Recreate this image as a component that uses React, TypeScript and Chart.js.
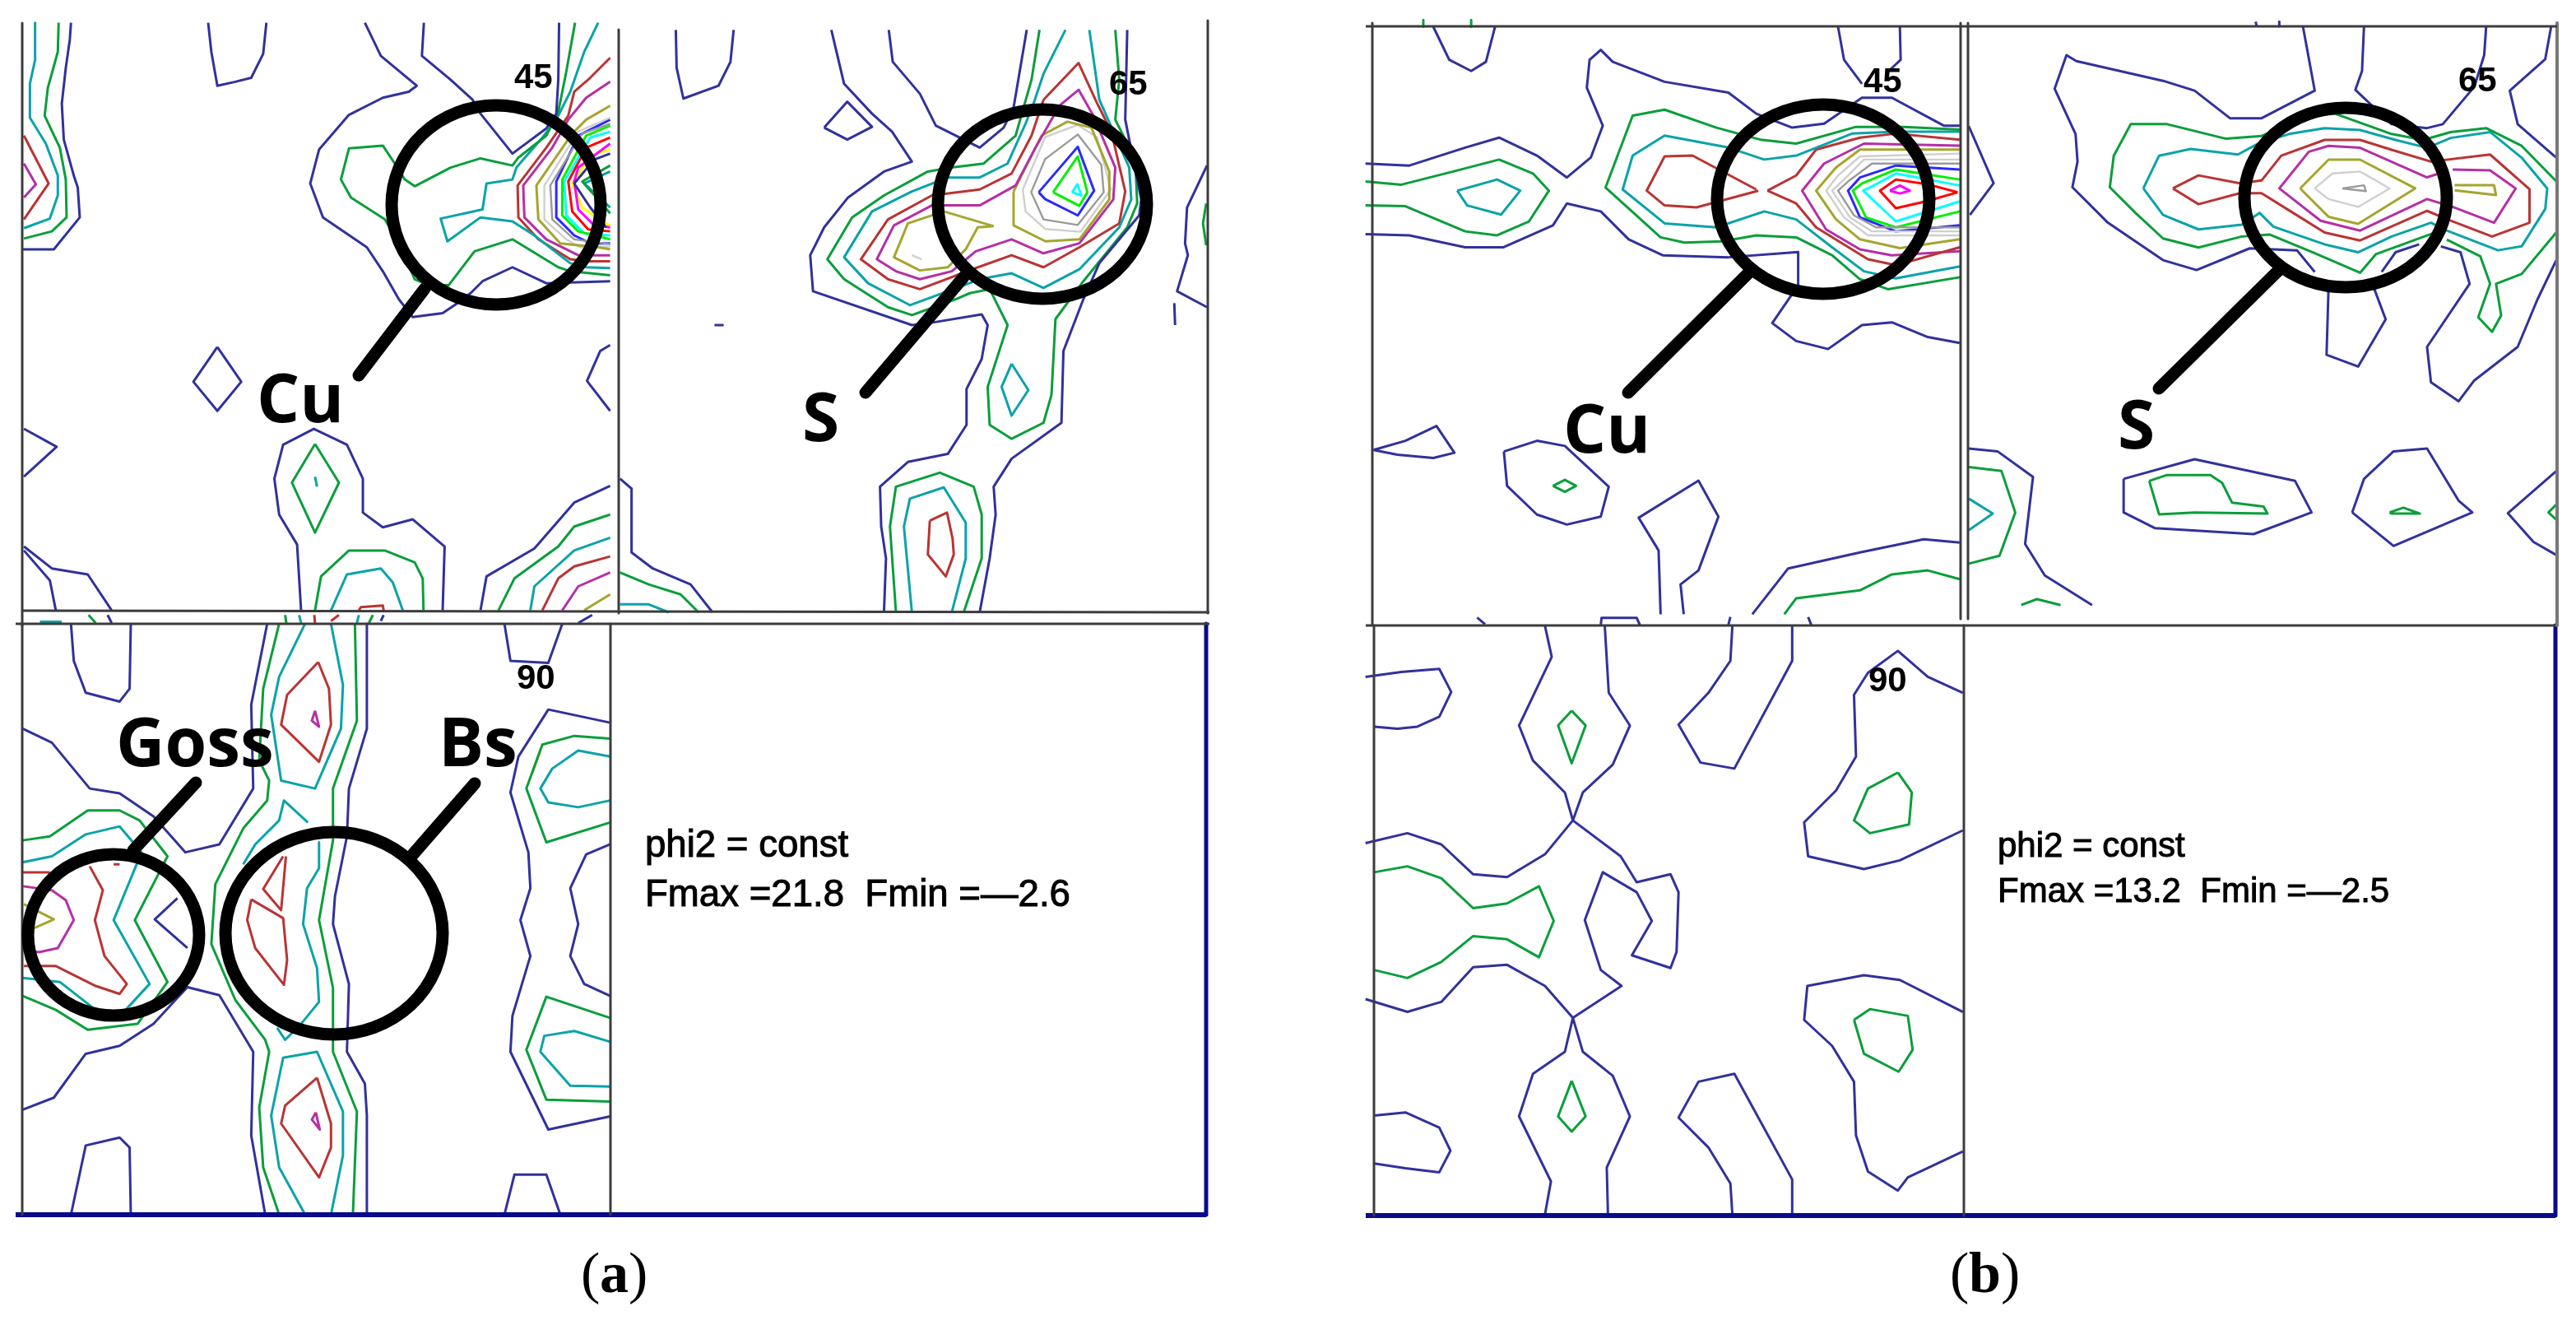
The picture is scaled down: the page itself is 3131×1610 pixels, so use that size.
import React, { useEffect, useRef } from "react";
import { Chart, registerables } from "chart.js";

Chart.register(...registerables);

// contour level colours, lowest level first
const levelColors = ["#31319c", "#0a9e3a", "#0aa3a8", "#b93434", "#b52fa5", "#a5a52f", "#cfcfcf", "#9a9a9a", "#2a2aff", "#00f000", "#00ffff", "#ff0000", "#ff00ff", "#ffff00", "#ff8c3c"];
const [NV, GR, TL, BR, PU, OL, LG, DG, BL, LM, CY, RD, MG, YL, OR] = levelColors.map((_, i) => i);

type Contour = [number, number[]];

const a45: Contour[] = [
  [NV, [178,57,175,100,165,170,155,260,160,350,185,440,195,470,200,545,135,625,57,625]],
  [GR, [147,57,145,130,120,220,112,290,150,370,165,450,167,545,130,580,60,598]],
  [TL, [88,57,88,150,75,210,75,295,115,360,145,440,145,490,125,548,60,572]],
  [BR, [60,340,122,460,60,550]],
  [PU, [60,410,90,462,60,495]],
  [NV, [522,57,530,130,545,215,590,205,630,195,660,135,668,57]],
  [NV, [915,57,955,140,1045,215,1025,230,960,245,875,288,800,375,778,460,810,545,920,620,960,680,1000,750,1035,795,1110,785,1140,765,1180,735,1210,705,1285,670,1370,710,1430,708,1530,705]],
  [NV, [1063,57,1058,140,1130,200,1185,250,1205,285,1285,385,1370,322,1395,285,1400,200,1402,57]],
  [GR, [1442,57,1420,180,1400,280,1370,340,1300,395,1285,415,1205,397,1130,420,1040,467,1015,450,990,410,960,365,875,372,855,450,880,495,965,550,1000,610,1040,700,1075,715,1125,715,1190,630,1285,600,1400,670,1430,680,1530,690]],
  [TL, [1500,57,1465,130,1430,230,1395,300,1360,345,1295,420,1285,450,1220,460,1210,525,1105,548,1122,605,1205,545,1285,555,1340,590,1430,660,1470,670,1530,672]],
  [BR, [1530,145,1480,195,1440,230,1425,290,1370,370,1298,465,1300,545,1350,600,1430,650,1480,655,1530,655]],
  [PU, [1530,205,1470,245,1425,300,1385,370,1312,465,1315,545,1370,600,1450,640,1530,640]],
  [OL, [1530,265,1470,300,1435,335,1345,465,1350,550,1405,610,1500,620,1530,625]],
  [LG, [1530,295,1450,330,1365,465,1365,550,1420,600,1455,620,1530,618]],
  [DG, [1530,310,1460,335,1380,465,1385,550,1440,600,1530,612]],
  [BL, [1530,300,1450,340,1395,455,1395,545,1440,590,1480,610,1530,610]],
  [LM, [1530,315,1470,340,1410,450,1410,540,1450,580,1530,600]],
  [CY, [1530,330,1480,345,1415,455,1420,540,1465,585,1530,590]],
  [RD, [1530,345,1470,370,1425,455,1435,530,1475,575,1530,580]],
  [MG, [1530,360,1450,420,1440,455,1450,525,1490,565,1530,570]],
  [YL, [1530,375,1480,390,1435,460,1460,520,1510,555,1530,565]],
  [NV, [1530,385,1490,400,1440,460,1480,520,1520,570]],
  [GR, [1530,415,1460,455,1500,500,1530,535]],
  [TL, [1530,430,1465,460,1530,520]],
  [NV, [60,1075,142,1120,60,1195]],
  [NV, [545,870,605,957,545,1030,485,957,545,870]],
  [NV, [1530,865,1505,880,1472,955,1530,1030]],
  [NV, [755,1530,745,1365,700,1290,688,1200,710,1115,787,1075,870,1115,910,1200,910,1285,960,1322,1035,1302,1115,1370,1110,1530]],
  [NV, [60,1370,130,1425,220,1440,280,1530]],
  [NV, [60,1380,125,1455,140,1530]],
  [NV, [1205,1530,1220,1445,1340,1375,1440,1260,1530,1218]],
  [GR, [790,1113,850,1210,790,1335,732,1210,790,1113]],
  [GR, [790,1530,805,1445,875,1380,965,1380,1040,1410,1060,1450,1062,1530]],
  [GR, [1250,1530,1290,1450,1400,1370,1440,1320,1530,1290]],
  [TL, [790,1195,795,1220]],
  [TL, [830,1530,870,1440,955,1425,985,1460,1010,1530]],
  [TL, [1330,1530,1340,1470,1440,1380,1530,1348]],
  [BR, [900,1530,905,1522,960,1518,962,1530]],
  [BR, [1360,1530,1400,1450,1440,1420,1530,1395]],
  [PU, [1410,1530,1450,1470,1530,1435]],
  [OL, [1465,1530,1530,1490]],
];

const a65: Contour[] = [
  [NV, [168,75,170,170,187,247,275,215,305,155,313,75]],
  [NV, [558,75,590,210,660,285,710,330,760,405,690,430,600,495,540,570,505,640,512,730,760,815,815,808,935,788,950,815,935,900,897,975,897,1065,850,1138,750,1158,680,1220,683,1320,695,1400,690,1535]],
  [NV, [702,75,712,155,780,235,820,315,930,370,990,320,1015,270,1048,75]],
  [NV, [1300,75,1295,300,1335,500,1330,540,1230,660,1190,750,1140,880,1135,1060,1010,1150,965,1220,970,1290,955,1400,930,1535]],
  [NV, [540,320,598,255,660,318,598,350,540,320]],
  [NV, [265,815,288,815]],
  [NV, [1418,760,1420,815]],
  [NV, [1500,415,1450,520,1445,610,1452,640,1425,730,1500,770]],
  [NV, [28,1200,57,1225,57,1385,110,1425,205,1465,260,1535]],
  [GR, [1080,75,1060,200,1040,270,1020,340,940,410,860,420,800,430,690,490,610,545,548,650,590,700,700,770,760,790,870,750,905,735,955,725,1000,815,950,970,955,1065,1010,1100,1090,1060,1110,990,1120,800,1190,705,1300,570,1325,510,1320,400,1270,300,1280,200,1270,75]],
  [GR, [1498,510,1490,560,1498,615]],
  [GR, [720,1535,705,1320,720,1220,830,1185,915,1220,935,1290,935,1400,890,1535]],
  [GR, [28,1435,100,1465,180,1490,225,1535]],
  [TL, [1145,75,1090,185,1065,260,1045,310,1000,410,930,445,850,445,760,480,660,530,590,645,650,710,755,765,850,730,930,700,1010,685,1090,722,1180,675,1280,570,1310,500,1305,420,1230,250,1205,75]],
  [TL, [1010,912,1052,978,1010,1042,985,970,1010,912]],
  [TL, [760,1535,740,1320,755,1250,840,1222,895,1310,895,1400,860,1535]],
  [TL, [28,1515,100,1515,150,1535]],
  [BR, [1090,250,1178,158,1225,260,1260,330,1295,480,1280,560,1180,620,1090,670,1010,640,920,672,780,725,700,700,632,650,700,550,810,490,930,475,1010,435,1060,340,1090,250]],
  [BR, [805,1305,848,1285,862,1350,865,1390,845,1445,800,1390,805,1305]],
  [PU, [1130,265,1178,225,1215,290,1270,420,1265,500,1180,610,1090,635,1010,600,920,630,860,680,780,700,720,680,672,650,715,565,810,515,930,515,1020,465,1070,370,1130,265]],
  [OL, [1015,480,1085,340,1150,305,1210,320,1255,430,1255,500,1180,600,1095,605,1015,565,1015,480]],
  [OL, [965,567,840,530,750,560,715,645,780,678,850,670,895,625,925,570,965,567]],
  [LG, [1038,475,1094,344,1176,313,1224,344,1259,475,1183,581,1094,574,1045,530,1038,475]],
  [DG, [1059,482,1094,399,1176,337,1235,413,1241,482,1176,564,1090,550,1059,482]],
  [BL, [1078,482,1176,368,1217,478,1176,540,1094,499,1078,482]],
  [LM, [1114,482,1176,392,1200,482,1180,516,1114,482]],
  [CY, [1162,482,1175,462,1185,490,1162,482]],
  [LG, [760,640,785,650]],
];

const a90: Contour[] = [
  [NV, [178,37,185,130,215,210,300,232,325,200,328,37]],
  [NV, [57,300,130,335,225,450,300,462,385,520,465,610,550,590,635,450,630,240,670,37]],
  [NV, [920,37,920,300,875,450,870,570,840,720,835,790,875,940,870,1110,915,1190,920,1270,920,1518]],
  [NV, [1265,37,1280,130,1375,135,1410,37]],
  [NV, [1530,285,1375,252,1300,370,1280,460,1325,610,1330,700,1305,780,1330,870,1285,1020,1280,1110,1375,1305,1530,1272]],
  [NV, [1530,590,1470,615,1430,700,1450,790,1430,870,1465,940,1530,970]],
  [NV, [445,725,388,778,470,850]],
  [NV, [57,1255,135,1225,215,1115,300,1095,385,1040,440,980,470,948,550,968,635,1110,630,1320,665,1518]],
  [NV, [178,1518,215,1345,300,1325,325,1350,328,1518]],
  [NV, [1265,1518,1290,1418,1370,1418,1405,1518]],
  [GR, [57,580,125,570,220,505,300,505,350,530,420,620,338,780,420,935,345,1040,220,1055,140,1005,57,970]],
  [GR, [700,37,660,200,650,380,675,430,670,480,610,550,540,690,530,840,590,980,665,1080,675,1110,650,1250,660,1400,700,1518]],
  [GR, [890,37,895,280,835,450,835,580,800,780,835,950,835,1110,895,1260,885,1518]],
  [GR, [1530,325,1440,318,1360,340,1320,450,1370,585,1530,535]],
  [GR, [1530,1025,1370,972,1320,1105,1370,1230,1530,1235]],
  [TL, [57,635,130,620,215,565,300,545,355,610,285,780,375,940,315,1005]],
  [TL, [57,925,150,935,240,1005]],
  [TL, [765,37,700,170,680,265,705,430,790,450,855,300,860,190,830,37]],
  [TL, [610,640,640,590,700,530,712,480,772,535]],
  [TL, [800,585,800,650,770,700,760,790,795,900,800,985,755,1040,715,1080,695,1050]],
  [TL, [765,1518,700,1400,680,1270,710,1125,795,1110,860,1260,860,1370,830,1518]],
  [TL, [1530,370,1450,355,1385,400,1355,450,1375,485,1450,497,1530,480]],
  [TL, [1530,1085,1440,1058,1365,1070,1355,1110,1430,1195,1530,1197]],
  [BR, [225,645,258,705,238,780,262,870,318,940,300,965,240,945,140,895,60,895]],
  [BR, [57,660,125,660]],
  [BR, [798,133,825,200,830,290,800,383,705,290,720,215,798,133]],
  [BR, [710,620,660,702,705,755,717,620]],
  [BR, [630,728,710,775,720,880,712,942,640,850,620,780,630,728]],
  [BR, [795,1175,830,1290,830,1350,800,1425,705,1290,715,1245,795,1175]],
  [BR, [285,640,300,640]],
  [PU, [58,695,130,705,165,730,185,780,145,850,100,860,60,860]],
  [PU, [790,255,800,295,782,280,790,255]],
  [PU, [792,1262,802,1305,782,1280,792,1262]],
  [OL, [60,740,135,778,85,800]],
  [OR, [1355,355,1335,410]],
  [GR, [715,15,718,35]],
  [TL, [750,15,755,35]],
  [BR, [788,15,790,35]],
  [BR, [830,30,850,15]],
  [TL, [895,35,900,15]],
  [GR, [925,35,935,15]],
  [NV, [955,30,962,15]],
  [TL, [100,32,155,32]],
  [GR, [222,15,240,35]],
  [NV, [270,15,280,35]],
  [NV, [1450,35,1485,15]],
];

const b45: Contour[] = [
  [NV, [190,67,230,150,285,178,322,155,345,67]],
  [NV, [20,410,130,415,270,370,355,345,450,390,525,445,585,395,615,315,575,220,582,150,610,125,640,155,770,205,930,232,1000,285,1090,320,1170,310,1265,245,1340,245,1470,315,1510,315]],
  [NV, [20,587,130,590,270,620,365,620,490,565,525,510,610,530,680,600,765,640,930,645,1105,632,1105,715,1040,810,1100,855,1180,875,1265,815,1340,808,1430,845,1510,860]],
  [NV, [1205,67,1220,150,1265,210]],
  [NV, [1360,67,1362,150,1330,180]],
  [NV, [40,1128,120,1105,198,1068,243,1135,190,1148,100,1140,40,1128]],
  [NV, [367,1132,450,1105,520,1118,630,1220,610,1295,525,1315,450,1290,375,1218,367,1132]],
  [NV, [760,1540,755,1380,705,1298,855,1205,905,1295,855,1430,810,1465,818,1540]],
  [NV, [990,1540,1080,1425,1260,1385,1420,1352,1510,1360]],
  [NV, [300,1548,320,1565]],
  [GR, [20,455,110,463,240,430,355,400,440,435,480,478,430,555,350,590,270,580,120,517,20,515]],
  [GR, [1510,325,1370,318,1250,318,1100,360,1010,350,900,320,770,275,690,290,622,470,760,595,820,608,915,605,1000,590,1100,595,1190,640,1260,700,1330,725,1510,695]],
  [GR, [1070,1540,1100,1500,1260,1480,1340,1440,1430,1430,1510,1452]],
  [GR, [165,50,165,67]],
  [GR, [285,50,285,67]],
  [GR, [490,1218,520,1203,548,1218,520,1233,490,1218]],
  [TL, [250,478,350,450,408,478,360,538,275,515,250,478]],
  [TL, [1510,330,1350,330,1240,335,1100,390,1020,400,930,370,770,340,690,390,665,475,770,560,900,570,1020,530,1100,550,1190,620,1270,680,1350,698,1510,668]],
  [BR, [1000,475,840,390,770,392,725,478,770,515,850,520,1005,478]],
  [BR, [1028,478,1100,440,1150,375,1260,345,1350,335,1510,350]],
  [BR, [1028,478,1100,510,1150,570,1280,650,1350,665,1510,620]],
  [PU, [1510,365,1270,360,1170,410,1115,478,1175,575,1260,625,1340,640,1510,630]],
  [OL, [1510,375,1260,375,1200,420,1150,478,1200,550,1260,600,1360,622,1510,600]],
  [LG, [1510,385,1260,392,1205,440,1175,478,1220,545,1280,590,1510,590]],
  [LG, [1510,400,1270,400,1220,450,1190,478,1235,545,1290,580,1510,580]],
  [DG, [1510,410,1290,410,1230,455,1205,478,1245,540,1300,570,1510,570]],
  [BL, [1510,425,1350,415,1260,445,1230,478,1260,545,1350,580,1510,565]],
  [LM, [1510,450,1350,425,1265,460,1242,478,1275,545,1350,570,1510,530]],
  [CY, [1510,465,1350,435,1285,470,1268,478,1350,555,1510,505]],
  [RD, [1505,482,1430,462,1350,450,1310,478,1350,522,1425,505,1505,482]],
  [MG, [1335,478,1360,465,1385,478,1360,485,1335,478]],
];

const b65: Contour[] = [
  [NV, [875,67,905,230,770,300,690,300,600,230,520,205,300,155,275,140,245,225,298,340,303,410,290,475,380,565,520,660,605,685,740,630,860,635,905,690]],
  [NV, [1030,67,1025,180,1008,228,1100,315,1190,325,1230,315,1310,220,1335,140,1340,67]],
  [NV, [1505,67,1490,150,1400,230,1420,315,1518,400]],
  [NV, [940,730,935,900,1015,930,1085,810,1055,730]],
  [NV, [1075,690,1110,640,1170,620]],
  [NV, [1225,625,1275,640,1298,720,1190,880,1200,970,1270,1018,1310,965,1420,880,1470,760,1518,660]],
  [NV, [27,1138,100,1145,190,1210,170,1380,220,1460,340,1535]],
  [NV, [420,1215,600,1165,855,1220,897,1300,750,1355,500,1340,420,1300,420,1215]],
  [NV, [1000,1300,1030,1215,1105,1145,1190,1138,1270,1270,1305,1300,1105,1385,1000,1300]],
  [NV, [1518,1195,1395,1302,1460,1375,1518,1408]],
  [NV, [27,320,90,465,30,545]],
  [NV, [755,55,758,67]],
  [NV, [815,55,815,67]],
  [GR, [1210,590,1060,645,1020,692,900,640,790,595,720,600,610,628,520,605,450,540,385,475,395,395,438,315,530,315,680,352,770,345,890,295,955,288,1100,340,1180,355,1250,335,1340,325,1430,370,1518,460]],
  [GR, [1240,608,1325,650,1350,720,1320,805,1355,842,1378,800,1365,720,1430,695,1518,590]],
  [GR, [27,1185,110,1195,145,1300,105,1410,27,1430]],
  [GR, [485,1220,530,1205,640,1205,670,1225,695,1275,775,1285,785,1303,600,1300,510,1305,485,1220]],
  [GR, [1095,1300,1130,1288,1172,1303,1100,1303,1095,1300]],
  [GR, [1518,1280,1498,1300,1518,1318]],
  [GR, [160,1535,200,1520,260,1535]],
  [TL, [470,478,510,395,590,378,710,392,760,365,840,340,930,325,1020,330,1110,355,1190,375,1250,350,1350,335,1430,400,1495,478,1490,530,1430,625,1370,635,1240,585,1200,565,1100,600,1015,640,930,620,800,575,765,540,720,570,610,582,520,545,470,478]],
  [TL, [27,1265,88,1303,27,1345]],
  [BR, [545,478,610,445,715,465,770,458,820,395,930,355,1020,355,1100,380,1200,410,1350,392,1450,480,1450,565,1355,600,1250,560,1190,535,1020,610,930,590,850,540,770,490,715,490,610,518,545,478]],
  [PU, [1220,440,1190,450,1020,375,940,370,890,385,815,478,920,560,1020,585,1190,505,1255,525,1360,565,1415,478,1350,432,1255,430]],
  [OL, [868,478,940,405,1020,405,1160,478,1015,568,940,550,868,478]],
  [OL, [1260,470,1360,470,1365,495,1260,483]],
  [LG, [905,478,950,440,1020,435,1095,478,1015,525,940,505,905,478]],
  [DG, [975,478,1030,470,1035,485,975,478]],
];

const b90: Contour[] = [
  [NV, [20,170,110,158,205,150,235,208,205,270,150,295,100,300,42,295]],
  [NV, [470,42,487,120,405,292,440,380,520,460,540,530,565,460,640,390,683,292,630,210,620,42]],
  [NV, [940,42,935,130,880,210,805,290,860,385,945,400,1090,130,1090,42]],
  [NV, [1518,210,1430,170,1355,105,1280,160,1245,215,1250,370,1200,455,1120,535,1130,620,1270,652,1360,630,1518,555]],
  [NV, [20,587,125,562,210,590,290,665,375,672,470,615,540,530,660,620,700,685,785,665,805,710,800,860,785,900,688,868,738,782,700,710,615,660,570,780,610,905,662,945,540,1025,470,945,375,892,290,898,210,985,125,1010,20,978]],
  [NV, [470,1518,485,1435,405,1272,440,1165,520,1110,540,1025,565,1110,640,1170,683,1272,625,1400,628,1518]],
  [NV, [42,1270,120,1262,205,1300,233,1358,205,1412,120,1402,42,1390]],
  [NV, [1090,1518,1090,1430,945,1165,855,1185,805,1275,880,1350,935,1440,940,1518]],
  [NV, [1518,1010,1360,930,1270,918,1128,945,1120,1030,1190,1095,1245,1185,1250,1320,1280,1410,1355,1458,1380,1425,1518,1360]],
  [NV, [610,40,612,22,700,22,708,40]],
  [NV, [935,20,930,40]],
  [NV, [1130,20,1138,40]],
  [GR, [537,255,572,292,537,387,503,292,537,255]],
  [GR, [42,660,125,645,210,675,290,750,375,738,455,695,492,782,455,873,375,828,290,820,210,885,125,925,42,905]],
  [GR, [1355,410,1390,460,1383,540,1285,562,1245,530,1280,450,1355,410]],
  [GR, [1245,1030,1285,1003,1380,1020,1392,1105,1357,1160,1270,1115,1245,1030]],
  [GR, [537,1183,572,1272,537,1310,503,1272,537,1183]],
];

// each contour block, with the top-left corner and scale of the region it was read from
const READ_SCALE = 760 / 1568;
const READ_SCALE_EDGE = 751 / 1568;
const contourPanels: [Contour[], number, number, number][] = [
  [a45, 0, 0, READ_SCALE], [a65, 740, 0, READ_SCALE], [a90, 0, 740, READ_SCALE],
  [b45, 1650, 0, READ_SCALE], [b65, 2380, 0, READ_SCALE_EDGE], [b90, 1650, 740, READ_SCALE],
];

const frameLines: [string, number, number[]][] = [
  ["#3c3c3c", 3, [27, 28, 27, 760]], ["#3c3c3c", 3, [27, 758, 27, 1476]],
  ["#3c3c3c", 3, [752, 36, 752, 745]], ["#3c3c3c", 3, [1468, 25, 1468, 745]],
  ["#3c3c3c", 3, [27, 742, 1470, 744]], ["#3c3c3c", 3, [19, 758, 1470, 758]],
  ["#3c3c3c", 3, [742, 758, 742, 1476]],
  ["#0a0a8c", 5, [1466, 758, 1466, 1476]], ["#0a0a8c", 6, [19, 1476, 1466, 1476]],
  ["#3c3c3c", 3, [1660, 32, 3108, 32]], ["#3c3c3c", 3, [1668, 28, 1668, 758]],
  ["#3c3c3c", 3, [2383, 28, 2383, 752]], ["#3c3c3c", 3, [2392, 28, 2392, 752]],
  ["#777777", 4, [3108, 28, 3108, 760]], ["#3c3c3c", 3, [1660, 760, 3108, 760]],
  ["#3c3c3c", 3, [1670, 760, 1670, 1477]], ["#3c3c3c", 3, [2387, 760, 2387, 1477]],
  ["#0a0a8c", 5, [3106, 760, 3106, 1477]], ["#0a0a8c", 6, [1660, 1477, 3106, 1477]],
];

const ringCx = [603, 1267, 138, 406, 2216, 2851];
const ringCy = [249, 248, 1136, 1134, 242, 240];
const ringRx = [127, 127, 104, 132, 129, 123];
const ringRy = [121, 115, 98, 123, 115, 109];

const handles: number[][] = [
  [516, 351, 436, 456], [1171, 337, 1052, 477], [162, 1033, 238, 951], [502, 1038, 577, 952], [2127, 330, 1979, 477], [2770, 328, 2624, 472],
];

const labelFont = "bold 82px 'Open Sans'";
const numFont = "bold 42px 'Liberation Sans'";
const noteFontA = "45.6px 'Liberation Sans'";
const noteFontB = "42px 'Liberation Sans'";
const serif = "70px 'Liberation Serif'";
const serifBold = "bold 70px 'Liberation Serif'";

const labelTexts: [string, number, number, string, number][] = [
  ["Cu", 312, 513, labelFont, 0], ["S", 975, 536, labelFont, 0],
  ["Goss", 141, 931, labelFont, 0], ["Bs", 533, 931, labelFont, 0],
  ["Cu", 1900, 550, labelFont, 0], ["S", 2574, 545, labelFont, 0],
  ["45", 625, 107, numFont, 0], ["65", 1348, 115, numFont, 0], ["90", 628, 837, numFont, 0],
  ["45", 2265, 112, numFont, 0], ["65", 2988, 111, numFont, 0], ["90", 2271, 840, numFont, 0],
  ["phi2 = const", 784, 1041, noteFontA, 1], ["Fmax =21.8  Fmin =\u20142.6", 784, 1101, noteFontA, 1],
  ["phi2 = const", 2428, 1041, noteFontB, 1], ["Fmax =13.2  Fmin =\u20142.5", 2428, 1096, noteFontB, 1],
  ["(", 706, 1570, serif, 0], ["a", 729, 1570, serifBold, 0], [")", 764, 1570, serif, 0],
  ["(", 2370, 1570, serif, 0], ["b", 2393, 1570, serifBold, 0], [")", 2432, 1570, serif, 0],
];

function ringSprite(rx: number, ry: number): HTMLCanvasElement {
  const c = document.createElement("canvas");
  c.width = Math.ceil(rx * 2 + 24);
  c.height = Math.ceil(ry * 2 + 24);
  const g = c.getContext("2d")!;
  g.lineWidth = 15;
  g.strokeStyle = "#000";
  g.beginPath();
  g.ellipse(c.width / 2, c.height / 2, rx, ry, 0, 0, Math.PI * 2);
  g.stroke();
  return c;
}

const textPlugin = {
  id: "pictureText",
  afterDraw(chart: any) {
    const { ctx, scales } = chart;
    ctx.save();
    ctx.fillStyle = "#000";
    ctx.strokeStyle = "#000";
    ctx.textBaseline = "alphabetic";
    ctx.textAlign = "left";
    for (const [t, x, y, font, stroke] of labelTexts) {
      ctx.font = font;
      const px = scales.x.getPixelForValue(x);
      const py = scales.y.getPixelForValue(y);
      ctx.fillText(t, px, py);
      if (stroke) {
        ctx.lineWidth = stroke;
        ctx.strokeText(t, px, py);
      }
    }
    ctx.restore();
  },
};

function toPoints(flat: number[], ox = 0, oy = 0, k = 1) {
  const pts: { x: number; y: number }[] = [];
  for (let i = 0; i + 1 < flat.length; i += 2) pts.push({ x: ox + flat[i] * k, y: oy + flat[i + 1] * k });
  return pts;
}

export default function App() {
  const ref = useRef<HTMLCanvasElement>(null);
  useEffect(() => {
    const datasets: any[] = [];
    ringCx.forEach((cx, i) => {
      datasets.push({ data: [{ x: cx, y: ringCy[i] }], showLine: false, pointRadius: 1, pointStyle: ringSprite(ringRx[i], ringRy[i]), order: 0 });
    });
    handles.forEach((h) => {
      datasets.push({ data: toPoints(h), borderColor: "#000", borderWidth: 15, borderCapStyle: "round", pointRadius: 0, order: 0 });
    });
    frameLines.forEach(([color, w, line]) => {
      datasets.push({ data: toPoints(line), borderColor: color, borderWidth: w, pointRadius: 0, order: 1 });
    });
    contourPanels.forEach(([cs, ox, oy, k]) => {
      cs.forEach(([level, flat]) => {
        datasets.push({ data: toPoints(flat, ox, oy, k), borderColor: levelColors[level], borderWidth: level === LG || level === DG ? 2.4 : 3, pointRadius: 0, order: 2 + level });
      });
    });
    const chart = new Chart(ref.current!, {
      type: "line",
      data: { datasets },
      options: {
        animation: false,
        responsive: false,
        parsing: false,
        normalized: false,
        layout: { padding: 0, autoPadding: false },
        plugins: { legend: { display: false }, tooltip: { enabled: false } },
        elements: { line: { tension: 0, borderJoinStyle: "round", fill: false } },
        scales: {
          x: { type: "linear", display: false, min: 0, max: 3131 },
          y: { type: "linear", display: false, min: 0, max: 1610, reverse: true },
        },
      },
      plugins: [textPlugin],
    } as any);
    return () => chart.destroy();
  }, []);
  return (
    <canvas
      ref={ref}
      width={3131}
      height={1610}
      style={{ position: "absolute", left: 0, top: 0, width: 3131, height: 1610, background: "#fff", filter: "blur(0.6px)" }}
    />
  );
}
